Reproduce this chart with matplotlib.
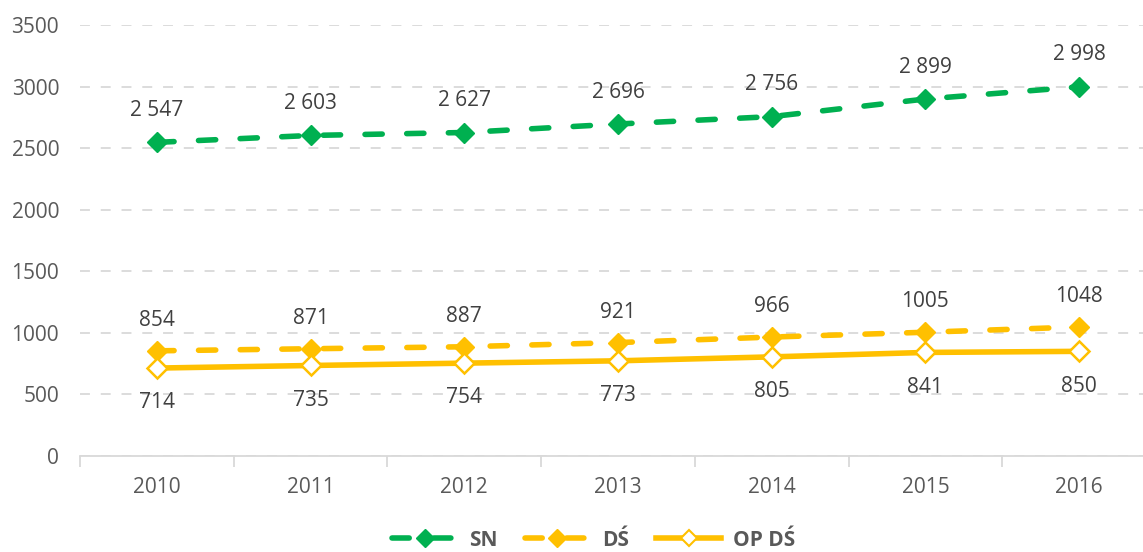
import matplotlib
matplotlib.use('Agg')
import matplotlib.pyplot as plt
from matplotlib.lines import Line2D

plt.rcParams['font.family'] = ['Open Sans', 'DejaVu Sans']

years = ['2010', '2011', '2012', '2013', '2014', '2015', '2016']
sn = [2547, 2603, 2627, 2696, 2756, 2899, 2998]
ds = [854, 871, 887, 921, 966, 1005, 1048]
op_ds = [714, 735, 754, 773, 805, 841, 850]

green = '#00B050'
gold = '#FFC000'
text_col = '#595959'
label_col = '#404040'


def fmt_space(v):
    return f"{v:,}".replace(',', ' ')


fig = plt.figure(figsize=(11.43, 5.52), dpi=100)
ax = fig.add_axes([80 / 1143, 1 - 456 / 552, 1076 / 1143, 431 / 552])

x = list(range(len(years)))
lw = 4.0
dash = (3.1, 4.4)

ax.plot(x, sn, color=green, lw=lw, linestyle=(0, dash), marker='D', ms=10.5,
        mfc=green, mec=green, dash_capstyle='round', zorder=3)
ax.plot(x, ds, color=gold, lw=lw, linestyle=(0, dash), marker='D', ms=10.5,
        mfc=gold, mec=gold, dash_capstyle='round', zorder=3)
ax.plot(x, op_ds, color=gold, lw=lw, linestyle='-', marker='D', ms=10.5,
        mfc='white', mec=gold, mew=1.8, zorder=3)

for i in x:
    ax.annotate(fmt_space(sn[i]), (i, sn[i]), xytext=(0, 23), textcoords='offset points',
                ha='center', va='center', fontsize=15, color=label_col)
    ax.annotate(str(ds[i]), (i, ds[i]), xytext=(0, 22), textcoords='offset points',
                ha='center', va='center', fontsize=15, color=label_col)
    ax.annotate(str(op_ds[i]), (i, op_ds[i]), xytext=(0, -25), textcoords='offset points',
                ha='center', va='center', fontsize=15, color=label_col)

ax.set_xlim(-0.5, len(years) - 0.5)
ax.set_ylim(0, 3500)
ax.set_yticks(range(0, 3501, 500))
ax.set_xticks(x)
ax.set_xticklabels(years)
ax.set_xticks([i - 0.5 for i in range(len(years) + 1)], minor=True)

ax.yaxis.grid(True, color='#D9D9D9', lw=1.3, linestyle=(0, (5.5, 6)))
ax.set_axisbelow(True)
for s in ['top', 'right', 'left']:
    ax.spines[s].set_visible(False)
ax.spines['bottom'].set_color('#D9D9D9')
ax.spines['bottom'].set_linewidth(1.3)

ax.tick_params(axis='y', length=0, labelsize=15, colors=text_col, pad=15)
ax.tick_params(axis='x', which='major', length=0, labelsize=15, colors=text_col, pad=15)
ax.tick_params(axis='x', which='minor', length=8, width=1.3, color='#D9D9D9')

handles = [
    Line2D([], [], color=green, lw=lw, linestyle=(0, dash), marker='D', ms=9,
           mfc=green, mec=green, dash_capstyle='round'),
    Line2D([], [], color=gold, lw=lw, linestyle=(0, dash), marker='D', ms=9,
           mfc=gold, mec=gold, dash_capstyle='round'),
    Line2D([], [], color=gold, lw=lw, marker='D', ms=8, mfc='white', mec=gold, mew=1.5),
]
leg = fig.legend(handles, ['SN', 'DŚ', 'OP DŚ'], loc='center',
                 bbox_to_anchor=(594 / 1143, 1 - 540 / 552),
                 ncol=3, frameon=False, handlelength=3.1, columnspacing=1.3, handletextpad=0.6,
                 prop={'size': 15, 'weight': 'bold'})
for t in leg.get_texts():
    t.set_color(text_col)

fig.savefig('out.png', dpi=100)
